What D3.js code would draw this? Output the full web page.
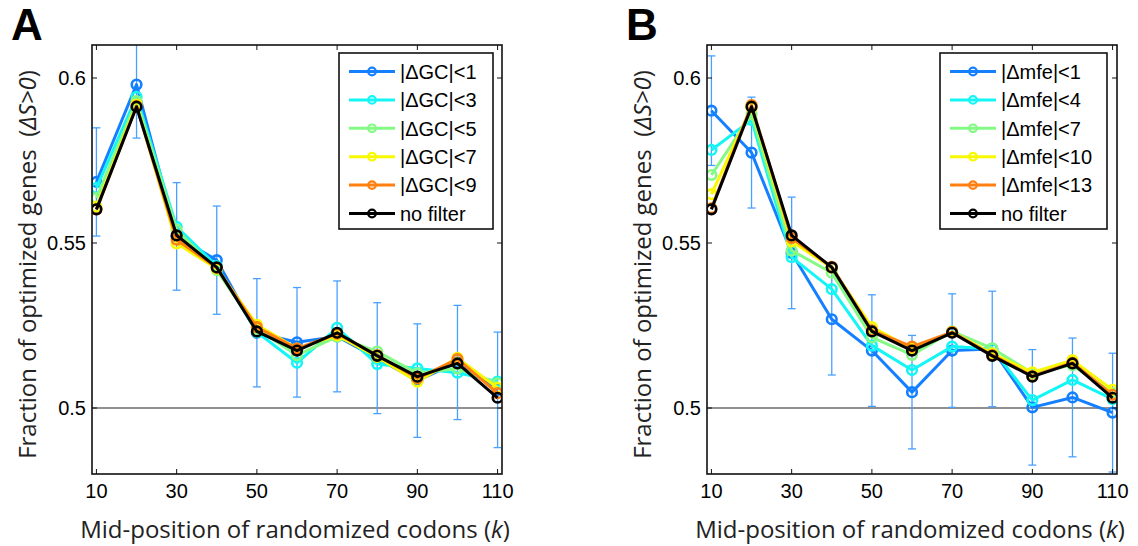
<!DOCTYPE html>
<html>
<head>
<meta charset="utf-8">
<script src="https://cdn.jsdelivr.net/npm/d3@7"></script>
<style>
  body { margin: 0; background: #fff; }
  svg { display: block; }
  .title { white-space: pre; }
</style>
</head>
<body>
<svg width="1138" height="546"></svg>
<script>
// mid-position of the randomized window
const kValues = [10, 20, 30, 40, 50, 60, 70, 80, 90, 100, 110];
const xTicks = [10, 30, 50, 70, 90, 110];
const yTicks = [0.5, 0.55, 0.6];

// panel A: filter by |ΔGC|
const gcNames = ["|ΔGC|<1", "|ΔGC|<3", "|ΔGC|<5", "|ΔGC|<7", "|ΔGC|<9", "no filter"];
const gc1 = [0.5685, 0.598, 0.552, 0.5448, 0.5228, 0.5199, 0.5217, 0.5151, 0.5083, 0.5138, 0.5055];
const gc3 = [0.5667, 0.5943, 0.5549, 0.543, 0.523, 0.5137, 0.5243, 0.5133, 0.512, 0.5107, 0.508];
const gc5 = [0.5636, 0.593, 0.554, 0.5418, 0.524, 0.516, 0.5216, 0.5171, 0.5105, 0.512, 0.5075];
const gc7 = [0.561, 0.592, 0.5499, 0.5422, 0.5252, 0.518, 0.522, 0.5155, 0.508, 0.5152, 0.5061];
const gc9 = [0.5602, 0.5915, 0.551, 0.5425, 0.5245, 0.518, 0.5225, 0.516, 0.509, 0.5148, 0.5045];
const noFilter = [0.5602, 0.5913, 0.5523, 0.5426, 0.5232, 0.5174, 0.5228, 0.5158, 0.5095, 0.5135, 0.5031];
const gcErr = [0.0164, 0.0162, 0.0163, 0.0164, 0.0164, 0.0166, 0.0168, 0.0168, 0.0172, 0.0173, 0.0175];

// panel B: filter by |Δmfe|
const mfeNames = ["|Δmfe|<1", "|Δmfe|<4", "|Δmfe|<7", "|Δmfe|<10", "|Δmfe|<13", "no filter"];
const mfe1 = [0.5901, 0.5774, 0.547, 0.5269, 0.5174, 0.5048, 0.5174, 0.5179, 0.5002, 0.5032, 0.4986];
const mfe4 = [0.5782, 0.5873, 0.5457, 0.536, 0.5189, 0.5115, 0.5186, 0.5179, 0.5024, 0.5085, 0.5027];
const mfe7 = [0.5706, 0.589, 0.5477, 0.541, 0.5214, 0.5161, 0.5232, 0.5181, 0.5105, 0.513, 0.5045];
const mfe10 = [0.5648, 0.591, 0.5505, 0.5425, 0.5245, 0.518, 0.523, 0.5165, 0.5108, 0.5145, 0.5055];
const mfe13 = [0.5605, 0.5918, 0.5515, 0.5428, 0.5235, 0.5186, 0.523, 0.516, 0.5097, 0.5137, 0.504];
const mfeErr = [0.0166, 0.0168, 0.0169, 0.0169, 0.0169, 0.0172, 0.0172, 0.0175, 0.0175, 0.018, 0.018];

const colors = ["#1580ff", "#14f5f5", "#84fa84", "#f8f800", "#ff8010", "#000000"];
const errColor = "#4aa0ff";

const svg = d3.select("svg");

drawPanel({
    letter: "A", left: 92, names: gcNames,
    series: [gc1, gc3, gc5, gc7, gc9, noFilter], err: gcErr,
    legend: { x: 339, w: 154 }
});
drawPanel({
    letter: "B", left: 707, names: mfeNames,
    series: [mfe1, mfe4, mfe7, mfe10, mfe13, noFilter], err: mfeErr,
    legend: { x: 940, w: 167 }
});

function drawPanel(p) {
    const w = 410, top = 45, bottom = 474;
    const x = d3.scaleLinear().domain([8.9, 111.1]).range([p.left, p.left + w]);
    const y = d3.scaleLinear().domain([0.48, 0.61]).range([bottom, top]);
    const g = svg.append("g");
    const clipId = "clip" + p.letter;

    g.append("clipPath").attr("id", clipId)
        .append("rect")
        .attr("x", p.left).attr("y", top)
        .attr("width", w).attr("height", bottom - top);

    // reference line at 0.5
    g.append("line")
        .attr("x1", p.left).attr("x2", p.left + w)
        .attr("y1", y(0.5)).attr("y2", y(0.5))
        .attr("stroke", "#222").attr("stroke-width", 1.2);

    const plot = g.append("g").attr("clip-path", "url(#" + clipId + ")");

    // error bars belong to the first (strictest) filter
    const eb = plot.append("g").attr("stroke", errColor).attr("stroke-width", 1.3).attr("fill", "none");
    kValues.forEach(function(k, i) {
        const c = p.series[0][i], e = p.err[i];
        const cx = x(k);
        eb.append("line").attr("x1", cx).attr("x2", cx).attr("y1", y(c - e)).attr("y2", y(c + e));
        eb.append("line").attr("x1", cx - 4).attr("x2", cx + 4).attr("y1", y(c - e)).attr("y2", y(c - e));
        eb.append("line").attr("x1", cx - 4).attr("x2", cx + 4).attr("y1", y(c + e)).attr("y2", y(c + e));
    });

    const line = d3.line()
        .x(function(d, i) { return x(kValues[i]); })
        .y(function(d) { return y(d); });

    p.series.forEach(function(s, si) {
        const sg = plot.append("g");
        sg.append("path")
            .datum(s)
            .attr("d", line)
            .attr("fill", "none")
            .attr("stroke", colors[si])
            .attr("stroke-width", 3)
            .attr("stroke-linejoin", "round");
        sg.selectAll("circle")
            .data(s)
            .enter().append("circle")
            .attr("cx", function(d, i) { return x(kValues[i]); })
            .attr("cy", function(d) { return y(d); })
            .attr("r", 4.8)
            .attr("fill", "none")
            .attr("stroke", colors[si])
            .attr("stroke-width", 2.6);
    });

    // axes box with inward ticks on all four sides
    const tick = 5;
    const ax = g.append("g").attr("stroke", "#111").attr("stroke-width", 1);
    xTicks.forEach(function(t) {
        ax.append("line").attr("x1", x(t)).attr("x2", x(t)).attr("y1", bottom).attr("y2", bottom - tick);
        ax.append("line").attr("x1", x(t)).attr("x2", x(t)).attr("y1", top).attr("y2", top + tick);
    });
    yTicks.forEach(function(t) {
        ax.append("line").attr("x1", p.left).attr("x2", p.left + tick).attr("y1", y(t)).attr("y2", y(t));
        ax.append("line").attr("x1", p.left + w).attr("x2", p.left + w - tick).attr("y1", y(t)).attr("y2", y(t));
    });
    g.append("rect")
        .attr("x", p.left).attr("y", top)
        .attr("width", w).attr("height", bottom - top)
        .attr("fill", "none").attr("stroke", "#111").attr("stroke-width", 1.6);

    g.selectAll(".xt")
        .data(xTicks)
        .enter().append("text")
        .attr("x", function(d) { return x(d); })
        .attr("y", bottom + 24)
        .attr("text-anchor", "middle")
        .attr("font-family", "Liberation Sans, Arial, sans-serif")
        .attr("font-size", 20)
        .text(function(d) { return d; });

    g.selectAll(".yt")
        .data(yTicks)
        .enter().append("text")
        .attr("x", p.left - 6)
        .attr("y", function(d) { return y(d); })
        .attr("dy", "0.36em")
        .attr("text-anchor", "end")
        .attr("font-family", "Liberation Sans, Arial, sans-serif")
        .attr("font-size", 20)
        .text(function(d) { return d; });

    // axis titles
    const xl = g.append("text")
        .attr("class", "title")
        .attr("x", p.left + w / 2 - 2)
        .attr("y", 538)
        .attr("text-anchor", "middle")
        .attr("font-family", "Open Sans, sans-serif")
        .attr("font-size", 24)
        .attr("fill", "#222");
    xl.append("tspan").text("Mid-position of randomized codons (");
    xl.append("tspan").attr("font-style", "italic").text("k");
    xl.append("tspan").text(")");

    const yl = g.append("text")
        .attr("class", "title")
        .attr("transform", "translate(" + (p.left - 56) + "," + ((top + bottom) / 2 + 5) + ") rotate(-90)")
        .attr("text-anchor", "middle")
        .attr("font-family", "Open Sans, sans-serif")
        .attr("font-size", 24)
        .attr("fill", "#222");
    yl.append("tspan").text("Fraction of optimized genes  (");
    yl.append("tspan").attr("font-style", "italic").text("ΔS>0");
    yl.append("tspan").text(")");

    // panel letter
    g.append("text")
        .attr("x", p.left - 81)
        .attr("y", 40)
        .attr("font-family", "Liberation Sans, Arial, sans-serif")
        .attr("font-weight", "bold")
        .attr("font-size", 44)
        .text(p.letter);

    // legend
    const lg = g.append("g");
    lg.append("rect")
        .attr("x", p.legend.x).attr("y", 53)
        .attr("width", p.legend.w).attr("height", 176)
        .attr("fill", "#fff").attr("stroke", "#111").attr("stroke-width", 1.6);
    p.names.forEach(function(name, i) {
        const ly = 71.5 + i * 28.4;
        const lx = p.legend.x + 10;
        lg.append("line")
            .attr("x1", lx).attr("x2", lx + 46)
            .attr("y1", ly).attr("y2", ly)
            .attr("stroke", colors[i]).attr("stroke-width", 3);
        lg.append("circle")
            .attr("cx", lx + 23).attr("cy", ly).attr("r", 3.8)
            .attr("fill", "none").attr("stroke", colors[i]).attr("stroke-width", 2.2);
        lg.append("text")
            .attr("x", lx + 51).attr("y", ly)
            .attr("dy", "0.36em")
            .attr("font-family", "Liberation Sans, Arial, sans-serif")
            .attr("font-size", 20)
            .text(name);
    });
}
</script>
</body>
</html>
